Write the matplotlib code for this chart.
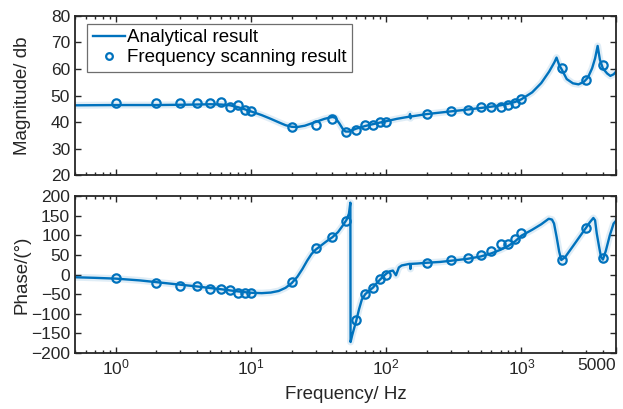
import numpy as np
import matplotlib
matplotlib.use("Agg")
import matplotlib.pyplot as plt
from matplotlib.ticker import FixedLocator, FixedFormatter, LogLocator, NullFormatter

plt.rcParams['font.family'] = ['Liberation Sans', 'DejaVu Sans']
plt.rcParams['mathtext.fontset'] = 'custom'
plt.rcParams['mathtext.rm'] = 'Liberation Sans'
plt.rcParams['mathtext.default'] = 'regular'

# ---- data ----
# analytical result (magnitude)
mag_f = [0.5, 1, 2, 3, 4, 5, 6, 7, 8, 9, 10, 12, 14, 16, 18, 20, 22, 25, 30, 35,
         40, 42, 45, 48, 50, 53, 56, 60, 70, 80, 90, 100, 120, 140, 148, 150, 151,
         153, 200, 300, 400, 500, 600, 700, 800, 900, 1000, 1200, 1400, 1600, 1750,
         1816, 1900, 2000, 2160, 2400, 2640, 2900, 3100, 3330, 3500, 3656, 3800,
         4000, 4300, 4540, 4800, 5000]
mag_db = [46.3, 46.4, 46.4, 46.5, 46.6, 46.7, 46.6, 46.3, 45.6, 44.8, 44.0, 42.6,
          41.2, 39.9, 38.8, 38.2, 38.1, 38.6, 40.0, 41.2, 41.9, 41.6, 39.5, 37.2,
          36.4, 36.4, 36.9, 37.5, 38.5, 39.2, 39.8, 40.3, 41.2, 41.8, 42.0, 43.0,
          41.4, 42.1, 43.0, 44.0, 44.7, 45.3, 45.8, 46.3, 46.9, 47.6, 48.6, 51.2,
          54.7, 59.0, 62.5, 64.3, 61.5, 59.5, 56.2, 54.6, 54.2, 55.2, 56.8, 60.3,
          64.0, 68.7, 63.5, 60.2, 58.3, 57.4, 58.0, 59.0]

# analytical result (phase)
ph_f = [0.5, 0.7, 1, 1.5, 2, 3, 4, 5, 6, 7, 8, 9, 10, 12, 14, 16, 18, 20, 22, 24,
        26, 28, 30, 33, 36, 40, 44, 48, 51, 53, 54.3, 54.5, 56, 58, 60, 63, 66, 70,
        75, 80, 85, 90, 95, 100, 106, 112, 118, 124, 130, 148, 150, 151, 152, 170,
        200, 250, 300, 400, 500, 600, 700, 800, 900, 1000, 1200, 1400, 1590, 1680,
        1740, 1820, 1900, 1970, 2100, 2400, 2740, 3000, 3200, 3400, 3500, 3600,
        3750, 3870, 4000, 4200, 4500, 4800, 5000]
ph_deg = [-7, -8.5, -10.5, -15, -19.5, -26, -30.5, -34.5, -37.5, -40.5, -43, -45,
          -46.5, -47.5, -46, -42, -34, -22, -6, 14, 35, 52, 63, 74, 84, 95, 108,
          126, 140, 155, 183, -172, -155, -136, -118, -88, -64, -50, -41, -33, -22,
          -13, -5, 2, 8, 10, -2, 18, 23, 27, 27, 14, 27, 28, 30, 32, 35, 40, 46, 54,
          63, 73, 85, 99, 114, 128, 142, 140, 130, 95, 58, 37, 44, 72, 100, 119,
          133, 144, 138, 105, 70, 45, 38, 60, 100, 130, 137]

# frequency scanning result
scan_f = [1, 2, 3, 4, 5, 6, 7, 8, 9, 10, 20, 30, 40, 50, 60, 70, 80, 90, 100,
          200, 300, 400, 500, 600, 700, 800, 900, 1000, 2000, 3000, 4000]
scan_db = [47, 47, 47, 47, 47, 47.5, 45.8, 46.3, 44.7, 44.1, 38.3, 38.9, 41.3, 36.2,
           37.1, 38.8, 38.9, 40.0, 40.1, 43, 44.2, 44.6, 45.7, 45.5, 45.7, 46.6,
           47.3, 48.6, 60.2, 55.8, 61.5]
scan_deg = [-10, -21, -29, -29, -37, -36, -39, -46, -46, -46, -20, 67, 95, 136,
            -116, -50, -34, -12, 0, 29, 37, 41, 49, 60, 77, 77, 90, 105, 37, 119, 41]

xticks = [1, 10, 100, 1000, 5000]
xticklabels = ['$10^{0}$', '$10^{1}$', '$10^{2}$', '$10^{3}$', '5000']

blue = '#0072BD'
dark = '#262626'

fig = plt.figure(figsize=(6.23, 4.09), dpi=100)
ax1 = fig.add_axes([0.1204, 0.5721, 0.8684, 0.3888])
ax2 = fig.add_axes([0.1204, 0.1369, 0.8684, 0.3839])


def style(ax):
    ax.set_xscale('log')
    ax.set_xlim(0.5, 5000)
    ax.xaxis.set_major_locator(FixedLocator(xticks))
    ax.xaxis.set_minor_locator(LogLocator(base=10, subs=np.arange(2, 10)))
    ax.xaxis.set_minor_formatter(NullFormatter())
    ax.tick_params(which='both', direction='in', top=True, right=True,
                   colors=dark, labelsize=12.5, width=1.0)
    ax.tick_params(which='major', length=4.5)
    ax.tick_params(which='minor', length=2.5)
    for s in ax.spines.values():
        s.set_color(dark)
        s.set_linewidth(1.3)


for ax in (ax1, ax2):
    style(ax)

# magnitude panel
ax1.plot(mag_f, mag_db, color=blue, lw=5, alpha=0.12, solid_joinstyle='round')
ax1.plot(mag_f, mag_db, color=blue, lw=1.7, label='Analytical result')
ax1.plot(scan_f, scan_db, 'o', mfc='none', mec=blue, ms=6, mew=1.6,
         label='Frequency scanning result')
ax1.set_ylim(20, 80)
ax1.set_yticks(np.arange(20, 81, 10))
ax1.tick_params(labelbottom=False)
ax1.set_ylabel('Magnitude/ db', fontsize=13.5, color=dark)
ax1.yaxis.set_label_coords(-0.082, 0.5)
leg = ax1.legend(loc='upper left', bbox_to_anchor=(0.022, 0.952), borderaxespad=0,
                 fontsize=13.5, fancybox=False, framealpha=1, edgecolor='#6e6e6e',
                 handlelength=1.75, handletextpad=0.1, labelspacing=0.15,
                 borderpad=0.3, markerscale=0.8)
leg.get_frame().set_linewidth(0.9)

# phase panel
ax2.plot(ph_f, ph_deg, color=blue, lw=5, alpha=0.12, solid_joinstyle='round')
ax2.plot(ph_f, ph_deg, color=blue, lw=1.7)
ax2.plot(scan_f, scan_deg, 'o', mfc='none', mec=blue, ms=6, mew=1.6)
ax2.set_ylim(-200, 200)
ax2.set_yticks(np.arange(-200, 201, 50))
ax2.xaxis.set_major_formatter(FixedFormatter(xticklabels))
ax2.set_ylabel('Phase/(°)', fontsize=13.5, color=dark)
ax2.yaxis.set_label_coords(-0.082, 0.5)
ax2.set_xlabel('Frequency/ Hz', fontsize=13.5, color=dark, labelpad=6)
ax2.get_xticklabels()[-1].set_ha('right')

fig.savefig('out.png', dpi=100)
